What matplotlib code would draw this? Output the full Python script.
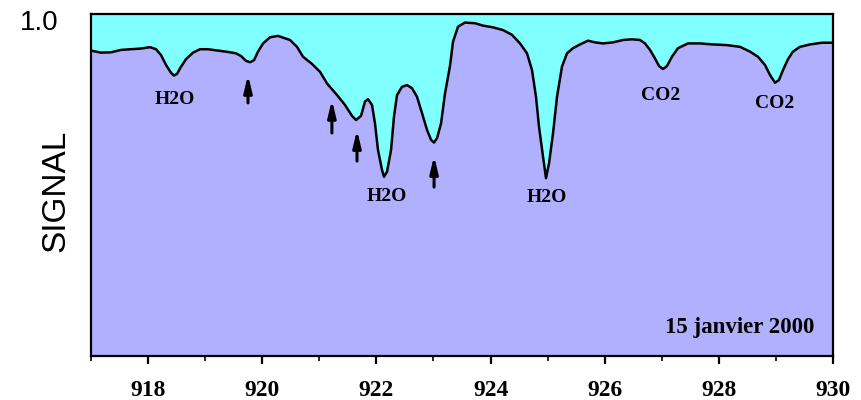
import numpy as np
import matplotlib.pyplot as plt

# wavenumber (cm-1) and normalised signal
wavenumber = [917.000, 917.175, 917.350, 917.526, 917.701, 917.876, 918.034, 918.139,
              918.226, 918.314, 918.402, 918.454, 918.507, 918.577, 918.664, 918.787,
              918.910, 919.050, 919.225, 919.400, 919.540, 919.628, 919.716, 919.786,
              919.856, 919.926, 920.014, 920.136, 920.277, 920.311, 920.486, 920.609,
              920.714, 920.872, 921.012, 921.134, 921.310, 921.450, 921.573, 921.643,
              921.730, 921.800, 921.853, 921.923, 921.975, 922.028, 922.098, 922.133,
              922.186, 922.256, 922.308, 922.361, 922.448, 922.536, 922.624, 922.711,
              922.799, 922.887, 922.957, 923.009, 923.062, 923.132, 923.202, 923.289,
              923.342, 923.430, 923.552, 923.727, 923.868, 924.043, 924.218, 924.376,
              924.516, 924.638, 924.726, 924.796, 924.849, 924.919, 924.971, 925.024,
              925.094, 925.164, 925.251, 925.339, 925.444, 925.567, 925.707, 925.830,
              925.970, 926.145, 926.320, 926.478, 926.618, 926.706, 926.793, 926.881,
              926.951, 927.021, 927.091, 927.178, 927.283, 927.459, 927.669, 927.897,
              928.142, 928.370, 928.545, 928.685, 928.808, 928.895, 928.983, 929.053,
              929.123, 929.211, 929.298, 929.421, 929.596, 929.806, 930.000]
signal = [0.893, 0.887, 0.888, 0.895, 0.897, 0.899, 0.903, 0.897,
          0.880, 0.851, 0.828, 0.820, 0.825, 0.846, 0.868, 0.887,
          0.897, 0.897, 0.893, 0.889, 0.885, 0.877, 0.863, 0.859,
          0.865, 0.890, 0.914, 0.932, 0.936, 0.934, 0.924, 0.904,
          0.875, 0.854, 0.831, 0.797, 0.763, 0.734, 0.702, 0.690,
          0.702, 0.744, 0.751, 0.734, 0.680, 0.602, 0.544, 0.524,
          0.539, 0.602, 0.700, 0.763, 0.787, 0.792, 0.783, 0.758,
          0.710, 0.661, 0.632, 0.624, 0.637, 0.680, 0.768, 0.848,
          0.919, 0.963, 0.975, 0.973, 0.966, 0.961, 0.953, 0.939,
          0.914, 0.885, 0.836, 0.758, 0.670, 0.583, 0.520, 0.563,
          0.651, 0.758, 0.846, 0.885, 0.900, 0.911, 0.922, 0.917,
          0.914, 0.917, 0.924, 0.926, 0.924, 0.914, 0.895, 0.870,
          0.848, 0.839, 0.848, 0.875, 0.900, 0.914, 0.914, 0.911,
          0.909, 0.904, 0.890, 0.875, 0.851, 0.822, 0.799, 0.807,
          0.836, 0.868, 0.890, 0.904, 0.911, 0.916, 0.916]

# band labels
band_names = ["H2O", "H2O", "H2O", "CO2", "CO2"]
band_x = [918.47, 922.18, 924.99, 926.98, 928.98]
band_y = [0.749, 0.465, 0.462, 0.763, 0.737]

# arrows (x, tail, head)
arrow_x = [919.75, 921.22, 921.66, 923.01]
arrow_tail = [0.740, 0.652, 0.570, 0.494]
arrow_head = [0.822, 0.749, 0.661, 0.585]

fig = plt.figure(figsize=(8.62, 4.0), dpi=100)
ax = fig.add_axes([0.1056, 0.11, 0.8608, 0.855])

ax.set_facecolor("#80FFFF")
ax.fill_between(wavenumber, 0, signal, color="#B0B0FF", lw=0)
ax.plot(wavenumber, signal, color="black", lw=1.8, solid_joinstyle="round")

ax.set_xlim(917, 930)
ax.set_ylim(0, 1.0)

for s in ax.spines.values():
    s.set_linewidth(1.6)

major = np.arange(918, 931, 2)
ax.set_xticks(major)
ax.set_xticklabels([str(v) for v in major], family="Liberation Serif",
                   fontweight="bold", fontsize=17)
ax.set_xticks(np.arange(917, 931, 2), minor=True)
ax.tick_params(axis="x", which="major", direction="out", length=6, width=1.6, pad=11)
ax.tick_params(axis="x", which="minor", direction="out", length=3.5, width=1.2)
ax.set_yticks([])

for name, bx, by in zip(band_names, band_x, band_y):
    ax.text(bx, by, name, ha="center", va="center", family="Liberation Serif",
            fontweight="bold", fontsize=14)

for axx, t, h in zip(arrow_x, arrow_tail, arrow_head):
    ax.annotate("", xy=(axx, h), xytext=(axx, t),
                arrowprops=dict(arrowstyle="-|>,head_length=1.0,head_width=0.24",
                                color="black", lw=2.2, shrinkA=0, shrinkB=0))

ax.text(929.68, 0.082, "15 janvier 2000", ha="right", va="center",
        family="Liberation Serif", fontweight="bold", fontsize=16.5)

fig.text(0.045, 0.942, "1.0", ha="center", va="center", family="Liberation Sans", fontsize=20)
fig.text(0.0644, 0.524, "SIGNAL", ha="center", va="center", rotation=90,
         family="Liberation Sans", fontsize=24)

fig.savefig("out.png", dpi=100)
